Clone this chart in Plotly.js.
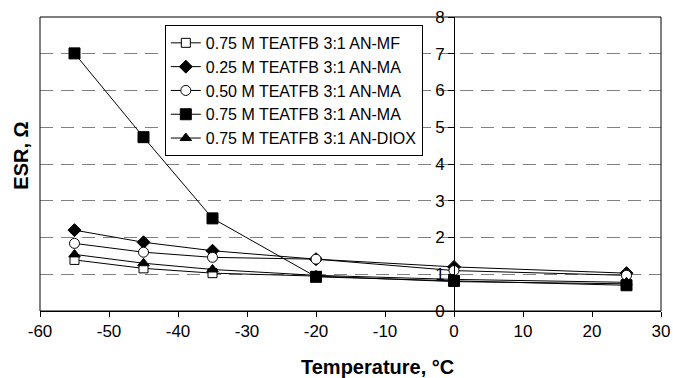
<!DOCTYPE html>
<html>
<head>
<meta charset="utf-8">
<script src="https://cdn.plot.ly/plotly-3.0.1.min.js"></script>
<style>html,body{margin:0;padding:0;background:#fff}#chart{width:673px;height:378px}</style>
</head>
<body>
<div id="chart"></div>
<script>
const temps = [-55, -45, -35, -20, 0, 25];
const seriesNames = [
  "0.75 M TEATFB 3:1 AN-MF",
  "0.25 M TEATFB 3:1 AN-MA",
  "0.50 M TEATFB 3:1 AN-MA",
  "0.75 M TEATFB 3:1 AN-MA",
  "0.75 M TEATFB 3:1 AN-DIOX"
];
const esrMF075 = [1.39, 1.16, 1.03, 0.95, 0.8, 0.74];
const esrMA025 = [2.2, 1.87, 1.64, 1.41, 1.2, 1.03];
const esrMA050 = [1.84, 1.6, 1.46, 1.41, 1.1, 0.97];
const esrMA075 = [7.01, 4.73, 2.52, 0.93, 0.82, 0.7];
const esrDIOX075 = [1.54, 1.3, 1.13, 0.97, 0.86, 0.78];
const xTicks = [-60, -50, -40, -30, -20, -10, 0, 10, 20, 30];
const xTickText = ["-60", "-50", "-40", "-30", "-20", "-10", "0", "10", "20", "30"];
const yTicks = [0, 1, 2, 3, 4, 5, 6, 7, 8];

const values = [esrMF075, esrMA025, esrMA050, esrMA075, esrDIOX075];
const symbols = ["square", "diamond", "circle", "square", "triangle-up"];
const fills = ["#ffffff", "#000000", "#ffffff", "#000000", "#000000"];
const sizes = [9, 10, 10, 11, 10];

const traces = values.map((v, i) => ({
  type: "scatter", mode: "lines+markers",
  x: temps, y: v, name: seriesNames[i],
  line: {color: "#000", width: 1},
  marker: {symbol: symbols[i], size: sizes[i], color: fills[i], line: {color: "#000", width: 1}}
}));

const layout = {
  width: 673, height: 378,
  margin: {l: 40, r: 12, t: 17, b: 67},
  paper_bgcolor: "#fff", plot_bgcolor: "#fff",
  font: {family: "Liberation Sans, Arial, sans-serif", color: "#000", size: 17},
  showlegend: true,
  legend: {x: 0.201, y: 0.973, xanchor: "left", yanchor: "top",
    bordercolor: "#000", borderwidth: 1, bgcolor: "#fff",
    font: {size: 16, color: "#000"}, tracegroupgap: 0},
  xaxis: {range: [-60, 30], tickvals: xTicks, ticktext: xTickText, ticks: "outside", ticklen: 5,
    tickcolor: "#000", showline: true, linecolor: "#000", linewidth: 1,
    showgrid: false, zeroline: false, fixedrange: true, tickfont: {size: 17}},
  yaxis: {range: [0, 8], tickvals: yTicks, ticks: "outside", ticklen: 6,
    tickcolor: "#000", showline: true, linecolor: "#000", linewidth: 1,
    anchor: "free", position: 60/90,
    showgrid: true, gridcolor: "#808080", gridwidth: 1, griddash: "13px,8px",
    zeroline: false, fixedrange: true, tickfont: {size: 17}},
  shapes: [{type: "rect", xref: "paper", yref: "paper", x0: 0, x1: 1, y0: 0, y1: 1,
    line: {color: "#000", width: 1}, layer: "above"}],
  annotations: [
    {text: "<b>Temperature, °C</b>", xref: "paper", yref: "paper",
     x: (377 - 40) / 621, y: -0.19, xanchor: "center", yanchor: "middle",
     showarrow: false, font: {size: 20}},
    {text: "<b>ESR, Ω</b>", xref: "paper", yref: "paper",
     x: -0.0298, y: 0.53, xanchor: "center", yanchor: "middle", textangle: -90,
     showarrow: false, font: {size: 20}}
  ]
};
Plotly.newPlot("chart", traces, layout, {displayModeBar: false, staticPlot: true});
</script>
</body>
</html>
